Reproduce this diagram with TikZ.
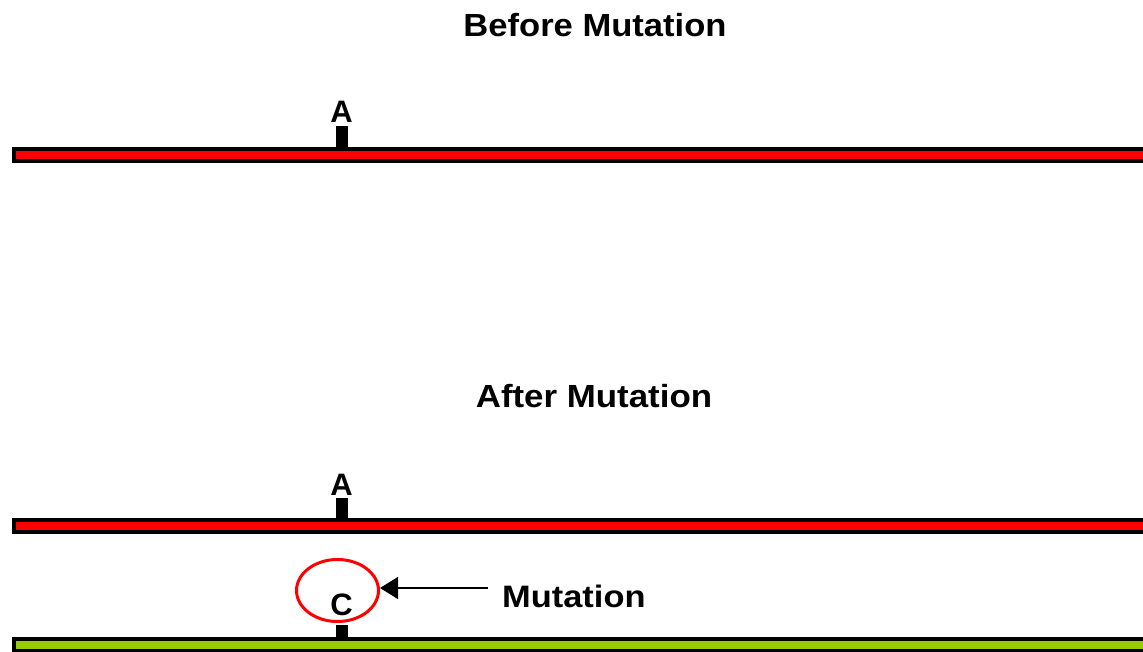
\documentclass[tikz,border=0pt]{standalone}
\usepackage{fontspec}
\setmainfont{Liberation Sans}
\usetikzlibrary{shapes.geometric,arrows.meta}
\definecolor{lime97}{HTML}{99CC00}
\tikzset{
  title/.style={font=\fontsize{32}{36}\selectfont\bfseries, inner sep=0pt, anchor=base},
  base/.style={font=\fontsize{31}{34}\selectfont\bfseries, inner sep=0pt, anchor=base},
  strandedge/.style={fill=black},
  redstrand/.style={fill=red},
  greenstrand/.style={fill=lime97},
  stub/.style={fill=black},
}
\begin{document}
\begin{tikzpicture}[x=1pt,y=-1pt]
\useasboundingbox (0,0) rectangle (1143,652);
\fill[white] (0,0) rectangle (1143,652);

% titles
\node[title] (before) at (595,37) {\scalebox{1.08}[1]{Before Mutation}};
\node[title] (after) at (594,407) {\scalebox{1.09}[1]{After Mutation}};

% original strand with base A
\fill[strandedge] (12,147) rectangle (1150,163);
\fill[redstrand] (16,151) rectangle (1150,159);
\fill[stub] (335.5,126) rectangle (347.5,147);
\node[base] (a1) at (341.5,123) {A};

% after: upper strand with base A
\fill[strandedge] (12,518) rectangle (1150,534);
\fill[redstrand] (16,522) rectangle (1150,530);
\fill[stub] (335.5,498) rectangle (347.5,518);
\node[base] (a2) at (341.5,495) {A};

% after: lower strand with mutated base C
\fill[strandedge] (12,637) rectangle (1150,653);
\fill[greenstrand] (16,641) rectangle (1150,649);
\fill[stub] (335.5,625) rectangle (347.5,637);
\node[base] (c) at (341.5,615) {C};

% marker round the mutated base
\node[ellipse, draw=red, line width=3pt, minimum width=82pt, minimum height=62pt, inner sep=0pt] (circ) at (337.5,590.5) {};

% label and pointer
\node[base, anchor=base west] (mut) at (502,607) {\scalebox{1.11}[1]{Mutation}};
\coordinate (tail) at (488,588);
\draw[line width=1.2pt, -{Triangle[length=18pt,width=22pt]}] (tail) -- (circ.east |- tail);
\end{tikzpicture}
\end{document}
